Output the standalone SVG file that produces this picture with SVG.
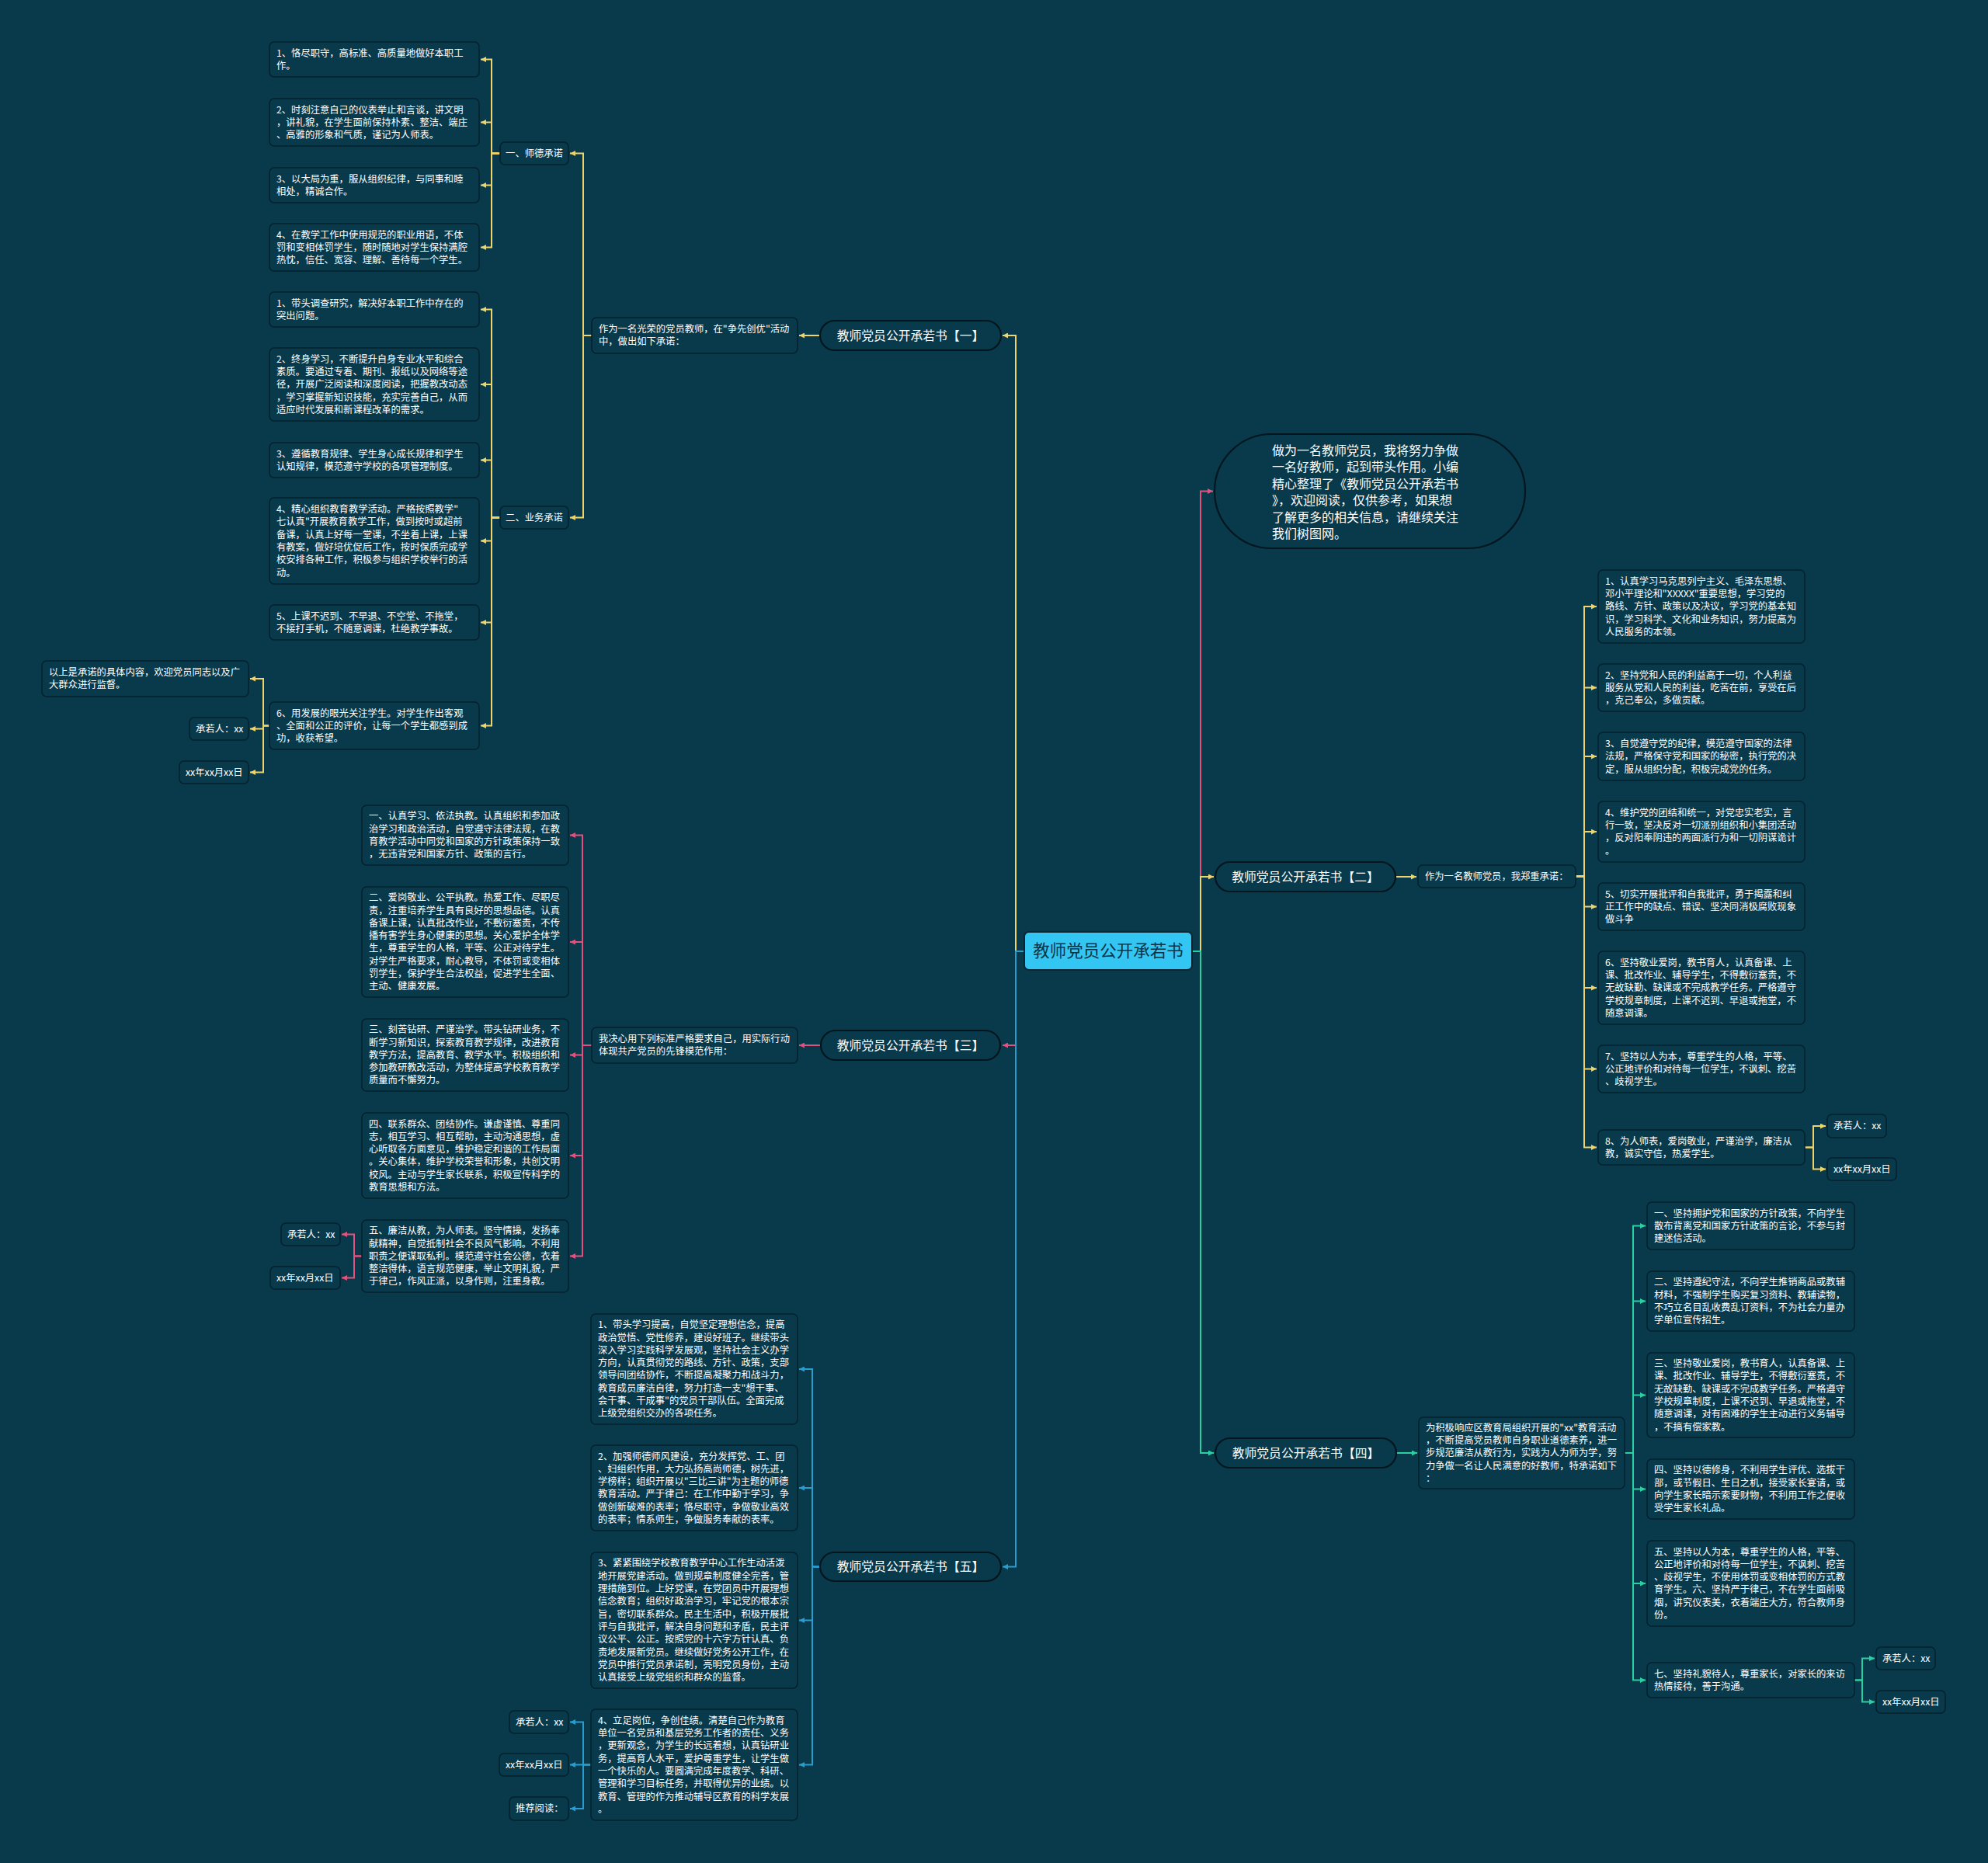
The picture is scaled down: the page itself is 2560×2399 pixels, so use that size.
<svg xmlns="http://www.w3.org/2000/svg" width="2560" height="2399" viewBox="0 0 2560 2399">
<style>
.bx{fill:#083a4c;stroke:#04202b;stroke-width:1.5}
.nd{fill:#083a4c;stroke:#03161d;stroke-width:2.2}
.lt{font-family:"Noto Sans CJK SC","Microsoft YaHei",sans-serif;font-size:12.3px;fill:#ffffff}
.nt{font-family:"Noto Sans CJK SC","Microsoft YaHei",sans-serif;font-size:15.8px;fill:#ffffff;text-anchor:middle}
.it{font-family:"Noto Sans CJK SC","Microsoft YaHei",sans-serif;font-size:16px;fill:#ffffff}
.ct{font-family:"Noto Sans CJK SC","Microsoft YaHei",sans-serif;font-size:21.5px;fill:#0b3446;text-anchor:middle}
.c{fill:none;stroke-width:2}
.y{stroke:#efd46c;marker-end:url(#mY)}
.p{stroke:#e2527e;marker-end:url(#mP)}
.b{stroke:#2a9ccd;marker-end:url(#mB)}
.g{stroke:#2bd0a2;marker-end:url(#mG)}
</style>
<defs>
<marker id="mY" viewBox="0 0 8 8" refX="8" refY="4" markerWidth="7" markerHeight="7" markerUnits="userSpaceOnUse" orient="auto"><path d="M0,0 L8,4 L0,8 z" fill="#efd46c"/></marker>
<marker id="mP" viewBox="0 0 8 8" refX="8" refY="4" markerWidth="7" markerHeight="7" markerUnits="userSpaceOnUse" orient="auto"><path d="M0,0 L8,4 L0,8 z" fill="#e2527e"/></marker>
<marker id="mB" viewBox="0 0 8 8" refX="8" refY="4" markerWidth="7" markerHeight="7" markerUnits="userSpaceOnUse" orient="auto"><path d="M0,0 L8,4 L0,8 z" fill="#2a9ccd"/></marker>
<marker id="mG" viewBox="0 0 8 8" refX="8" refY="4" markerWidth="7" markerHeight="7" markerUnits="userSpaceOnUse" orient="auto"><path d="M0,0 L8,4 L0,8 z" fill="#2bd0a2"/></marker>
</defs>
<rect x="0" y="0" width="2560" height="2399" fill="#083a4c"/>

<g id="connectors">
<!-- left: 一 (yellow) -->
<path class="c y" d="M1319,1225 H1308 V432 H1291"/>
<path class="c y" d="M1056,432 H1029"/>
<path class="c y" d="M762,432 H751 V197.5 H734"/>
<path class="c y" d="M762,432 H751 V666.5 H734"/>
<path class="c y" d="M644,197.5 H633 V76.5 H619"/>
<path class="c y" d="M644,197.5 H633 V157.5 H619"/>
<path class="c y" d="M644,197.5 H633 V238.5 H619"/>
<path class="c y" d="M644,197.5 H633 V318.5 H619"/>
<path class="c y" d="M644,666.5 H633 V398.5 H619"/>
<path class="c y" d="M644,666.5 H633 V495 H619"/>
<path class="c y" d="M644,666.5 H633 V592.5 H619"/>
<path class="c y" d="M644,666.5 H633 V696.5 H619"/>
<path class="c y" d="M644,666.5 H633 V801.5 H619"/>
<path class="c y" d="M644,666.5 H633 V934.5 H619"/>
<path class="c y" d="M349,934.5 H339 V874 H322"/>
<path class="c y" d="M349,934.5 H339 V938.5 H322"/>
<path class="c y" d="M349,934.5 H339 V994.5 H322"/>
<!-- left: 三 (pink) -->
<path class="c p" d="M1319,1225 H1308 V1346 H1291"/>
<path class="c p" d="M1057,1346 H1029"/>
<path class="c p" d="M762,1346 H750 V1075.5 H734"/>
<path class="c p" d="M762,1346 H750 V1213 H734"/>
<path class="c p" d="M762,1346 H750 V1358.5 H734"/>
<path class="c p" d="M762,1346 H750 V1488 H734"/>
<path class="c p" d="M762,1346 H750 V1617.5 H734"/>
<path class="c p" d="M466,1617.5 H456 V1589.5 H440"/>
<path class="c p" d="M466,1617.5 H456 V1645.5 H440"/>
<!-- left: 五 (blue) -->
<path class="c b" d="M1319,1225 H1308 V2017.5 H1291"/>
<path class="c b" d="M1056,2017.5 H1046 V1763 H1029"/>
<path class="c b" d="M1056,2017.5 H1046 V1916 H1029"/>
<path class="c b" d="M1056,2017.5 H1046 V2086.5 H1029"/>
<path class="c b" d="M1056,2017.5 H1046 V2272.5 H1029"/>
<path class="c b" d="M761,2272.5 H751 V2217.5 H734"/>
<path class="c b" d="M761,2272.5 H751 V2272.5 H734"/>
<path class="c b" d="M761,2272.5 H751 V2329 H734"/>
<!-- right: intro (pink) -->
<path class="c p" d="M1535,1225 H1546 V632.5 H1562"/>
<!-- right: 二 (yellow) -->
<path class="c y" d="M1535,1225 H1546 V1129 H1563"/>
<path class="c y" d="M1797,1129 H1824"/>
<path class="c y" d="M2029,1128.5 H2040 V781 H2056"/>
<path class="c y" d="M2029,1128.5 H2040 V885.5 H2056"/>
<path class="c y" d="M2029,1128.5 H2040 V974 H2056"/>
<path class="c y" d="M2029,1128.5 H2040 V1071 H2056"/>
<path class="c y" d="M2029,1128.5 H2040 V1167.5 H2056"/>
<path class="c y" d="M2029,1128.5 H2040 V1272 H2056"/>
<path class="c y" d="M2029,1128.5 H2040 V1376.5 H2056"/>
<path class="c y" d="M2029,1128.5 H2040 V1477.5 H2056"/>
<path class="c y" d="M2324,1477.5 H2335 V1450 H2351"/>
<path class="c y" d="M2324,1477.5 H2335 V1505.5 H2351"/>
<!-- right: 四 (green) -->
<path class="c g" d="M1535,1225 H1546 V1871 H1563"/>
<path class="c g" d="M1798,1871 H1825"/>
<path class="c g" d="M2092,1871 H2103 V1578.5 H2119"/>
<path class="c g" d="M2092,1871 H2103 V1675.5 H2119"/>
<path class="c g" d="M2092,1871 H2103 V1796.5 H2119"/>
<path class="c g" d="M2092,1871 H2103 V1917.5 H2119"/>
<path class="c g" d="M2092,1871 H2103 V2039 H2119"/>
<path class="c g" d="M2092,1871 H2103 V2163.5 H2119"/>
<path class="c g" d="M2388,2163.5 H2398 V2135.5 H2414"/>
<path class="c g" d="M2388,2163.5 H2398 V2191.5 H2414"/>
</g>

<!-- center -->
<g id="root">
<rect x="1319" y="1200" width="216" height="49" rx="6" fill="#33c6f3" stroke="#0b2532" stroke-width="2"/>
<text class="ct" x="1427" y="1232">教师党员公开承若书</text>
</g>

<!-- intro -->
<g id="intro">
<rect class="nd" x="1564" y="559" width="400" height="147" rx="73.5"/>
<text class="it" x="1638" y="585.6"><tspan x="1638">做为一名教师党员，我将努力争做</tspan><tspan x="1638" dy="21.5">一名好教师，起到带头作用。小编</tspan><tspan x="1638" dy="21.5">精心整理了《教师党员公开承若书</tspan><tspan x="1638" dy="21.5">》，欢迎阅读，仅供参考，如果想</tspan><tspan x="1638" dy="21.5">了解更多的相关信息，请继续关注</tspan><tspan x="1638" dy="21.5">我们树图网。</tspan></text>
</g>

<!-- branch nodes -->
<g id="b1"><rect class="nd" x="1056" y="413" width="233" height="38" rx="19"/><text class="nt" x="1172.5" y="437.6">教师党员公开承若书【一】</text></g>
<g id="b3"><rect class="nd" x="1057" y="1327" width="231" height="38" rx="19"/><text class="nt" x="1172.5" y="1351.6">教师党员公开承若书【三】</text></g>
<g id="b5"><rect class="nd" x="1056" y="1999" width="233" height="37" rx="18.5"/><text class="nt" x="1172.5" y="2023.1">教师党员公开承若书【五】</text></g>
<g id="b2"><rect class="nd" x="1565" y="1110" width="232" height="38" rx="19"/><text class="nt" x="1681" y="1134.6">教师党员公开承若书【二】</text></g>
<g id="b4"><rect class="nd" x="1565" y="1852" width="233" height="38" rx="19"/><text class="nt" x="1681.5" y="1876.6">教师党员公开承若书【四】</text></g>

<!-- section 一 -->
<g id="s1-intro"><rect class="bx" x="762" y="409" width="265" height="46" rx="6"/><text class="lt" x="771" y="428.15"><tspan x="771">作为一名光荣的党员教师，在"争先创优"活动</tspan><tspan x="771" dy="16.3">中，做出如下承诺：</tspan></text></g>
<g id="s1-a"><rect class="bx" x="644" y="183" width="88" height="29" rx="6"/><text class="lt" x="688" y="201.8" text-anchor="middle">一、师德承诺</text></g>
<g id="s1-b"><rect class="bx" x="644" y="652" width="88" height="29" rx="6"/><text class="lt" x="688" y="670.8" text-anchor="middle">二、业务承诺</text></g>
<g id="s1-a1"><rect class="bx" x="347" y="54" width="270" height="45" rx="6"/><text class="lt" x="356" y="72.65"><tspan x="356">1、恪尽职守，高标准、高质量地做好本职工</tspan><tspan x="356" dy="16.3">作。</tspan></text></g>
<g id="s1-a2"><rect class="bx" x="347" y="127" width="270" height="61" rx="6"/><text class="lt" x="356" y="145.5"><tspan x="356">2、时刻注意自己的仪表举止和言谈，讲文明</tspan><tspan x="356" dy="16.3">，讲礼貌，在学生面前保持朴素、整洁、端庄</tspan><tspan x="356" dy="16.3">、高雅的形象和气质，谨记为人师表。</tspan></text></g>
<g id="s1-a3"><rect class="bx" x="347" y="216" width="270" height="45" rx="6"/><text class="lt" x="356" y="234.65"><tspan x="356">3、以大局为重，服从组织纪律，与同事和睦</tspan><tspan x="356" dy="16.3">相处，精诚合作。</tspan></text></g>
<g id="s1-a4"><rect class="bx" x="347" y="288" width="270" height="61" rx="6"/><text class="lt" x="356" y="306.5"><tspan x="356">4、在教学工作中使用规范的职业用语，不体</tspan><tspan x="356" dy="16.3">罚和变相体罚学生，随时随地对学生保持满腔</tspan><tspan x="356" dy="16.3">热忱，信任、宽容、理解、善待每一个学生。</tspan></text></g>
<g id="s1-b1"><rect class="bx" x="347" y="376" width="270" height="45" rx="6"/><text class="lt" x="356" y="394.65"><tspan x="356">1、带头调查研究，解决好本职工作中存在的</tspan><tspan x="356" dy="16.3">突出问题。</tspan></text></g>
<g id="s1-b2"><rect class="bx" x="347" y="448" width="270" height="94" rx="6"/><text class="lt" x="356" y="466.7"><tspan x="356">2、终身学习，不断提升自身专业水平和综合</tspan><tspan x="356" dy="16.3">素质。要通过专着、期刊、报纸以及网络等途</tspan><tspan x="356" dy="16.3">径，开展广泛阅读和深度阅读，把握教改动态</tspan><tspan x="356" dy="16.3">，学习掌握新知识技能，充实完善自己，从而</tspan><tspan x="356" dy="16.3">适应时代发展和新课程改革的需求。</tspan></text></g>
<g id="s1-b3"><rect class="bx" x="347" y="570" width="270" height="45" rx="6"/><text class="lt" x="356" y="588.65"><tspan x="356">3、遵循教育规律、学生身心成长规律和学生</tspan><tspan x="356" dy="16.3">认知规律，模范遵守学校的各项管理制度。</tspan></text></g>
<g id="s1-b4"><rect class="bx" x="347" y="641" width="270" height="111" rx="6"/><text class="lt" x="356" y="660.05"><tspan x="356">4、精心组织教育教学活动。严格按照教学"</tspan><tspan x="356" dy="16.3">七认真"开展教育教学工作，做到按时或超前</tspan><tspan x="356" dy="16.3">备课，认真上好每一堂课，不坐着上课，上课</tspan><tspan x="356" dy="16.3">有教案，做好培优促后工作，按时保质完成学</tspan><tspan x="356" dy="16.3">校安排各种工作，积极参与组织学校举行的活</tspan><tspan x="356" dy="16.3">动。</tspan></text></g>
<g id="s1-b5"><rect class="bx" x="347" y="779" width="270" height="45" rx="6"/><text class="lt" x="356" y="797.65"><tspan x="356">5、上课不迟到、不早退、不空堂、不拖堂，</tspan><tspan x="356" dy="16.3">不接打手机，不随意调课，杜绝教学事故。</tspan></text></g>
<g id="s1-b6"><rect class="bx" x="347" y="904" width="270" height="61" rx="6"/><text class="lt" x="356" y="922.5"><tspan x="356">6、用发展的眼光关注学生。对学生作出客观</tspan><tspan x="356" dy="16.3">、全面和公正的评价，让每一个学生都感到成</tspan><tspan x="356" dy="16.3">功，收获希望。</tspan></text></g>
<g id="s1-b6a"><rect class="bx" x="54" y="851" width="266" height="46" rx="6"/><text class="lt" x="63" y="870.15"><tspan x="63">以上是承诺的具体内容，欢迎党员同志以及广</tspan><tspan x="63" dy="16.3">大群众进行监督。</tspan></text></g>
<g id="s1-b6b"><rect class="bx" x="244" y="924" width="76" height="29" rx="6"/><text class="lt" x="252" y="942.8">承若人：xx</text></g>
<g id="s1-b6c"><rect class="bx" x="231" y="980" width="89" height="29" rx="6"/><text class="lt" x="239" y="998.8">xx年xx月xx日</text></g>

<!-- section 三 -->
<g id="s3-intro"><rect class="bx" x="762" y="1323" width="265" height="46" rx="6"/><text class="lt" x="771" y="1342.15"><tspan x="771">我决心用下列标准严格要求自己，用实际行动</tspan><tspan x="771" dy="16.3">体现共产党员的先锋模范作用：</tspan></text></g>
<g id="s3-1"><rect class="bx" x="466" y="1037" width="266" height="77" rx="6"/><text class="lt" x="475" y="1055.35"><tspan x="475">一、认真学习、依法执教。认真组织和参加政</tspan><tspan x="475" dy="16.3">治学习和政治活动，自觉遵守法律法规，在教</tspan><tspan x="475" dy="16.3">育教学活动中同党和国家的方针政策保持一致</tspan><tspan x="475" dy="16.3">，无违背党和国家方针、政策的言行。</tspan></text></g>
<g id="s3-2"><rect class="bx" x="466" y="1142" width="266" height="142" rx="6"/><text class="lt" x="475" y="1160.25"><tspan x="475">二、爱岗敬业、公平执教。热爱工作、尽职尽</tspan><tspan x="475" dy="16.3">责，注重培养学生具有良好的思想品德。认真</tspan><tspan x="475" dy="16.3">备课上课，认真批改作业，不敷衍塞责，不传</tspan><tspan x="475" dy="16.3">播有害学生身心健康的思想。关心爱护全体学</tspan><tspan x="475" dy="16.3">生，尊重学生的人格，平等、公正对待学生。</tspan><tspan x="475" dy="16.3">对学生严格要求，耐心教导，不体罚或变相体</tspan><tspan x="475" dy="16.3">罚学生，保护学生合法权益，促进学生全面、</tspan><tspan x="475" dy="16.3">主动、健康发展。</tspan></text></g>
<g id="s3-3"><rect class="bx" x="466" y="1312" width="266" height="93" rx="6"/><text class="lt" x="475" y="1330.2"><tspan x="475">三、刻苦钻研、严谨治学。带头钻研业务，不</tspan><tspan x="475" dy="16.3">断学习新知识，探索教育教学规律，改进教育</tspan><tspan x="475" dy="16.3">教学方法，提高教育、教学水平。积极组织和</tspan><tspan x="475" dy="16.3">参加教研教改活动，为整体提高学校教育教学</tspan><tspan x="475" dy="16.3">质量而不懈努力。</tspan></text></g>
<g id="s3-4"><rect class="bx" x="466" y="1433" width="266" height="110" rx="6"/><text class="lt" x="475" y="1451.55"><tspan x="475">四、联系群众、团结协作。谦虚谨慎、尊重同</tspan><tspan x="475" dy="16.3">志，相互学习、相互帮助，主动沟通思想，虚</tspan><tspan x="475" dy="16.3">心听取各方面意见，维护稳定和谐的工作局面</tspan><tspan x="475" dy="16.3">。关心集体，维护学校荣誉和形象，共创文明</tspan><tspan x="475" dy="16.3">校风。主动与学生家长联系，积极宣传科学的</tspan><tspan x="475" dy="16.3">教育思想和方法。</tspan></text></g>
<g id="s3-5"><rect class="bx" x="466" y="1571" width="266" height="93" rx="6"/><text class="lt" x="475" y="1589.2"><tspan x="475">五、廉洁从教，为人师表。坚守情操，发扬奉</tspan><tspan x="475" dy="16.3">献精神，自觉抵制社会不良风气影响。不利用</tspan><tspan x="475" dy="16.3">职责之便谋取私利。模范遵守社会公德，衣着</tspan><tspan x="475" dy="16.3">整洁得体，语言规范健康，举止文明礼貌，严</tspan><tspan x="475" dy="16.3">于律己，作风正派，以身作则，注重身教。</tspan></text></g>
<g id="s3-5a"><rect class="bx" x="362" y="1575" width="76" height="29" rx="6"/><text class="lt" x="370" y="1593.8">承若人：xx</text></g>
<g id="s3-5b"><rect class="bx" x="348" y="1631" width="90" height="29" rx="6"/><text class="lt" x="356" y="1649.8">xx年xx月xx日</text></g>

<!-- section 五 -->
<g id="s5-1"><rect class="bx" x="761" y="1692" width="266" height="142" rx="6"/><text class="lt" x="770" y="1710.25"><tspan x="770">1、带头学习提高，自觉坚定理想信念，提高</tspan><tspan x="770" dy="16.3">政治觉悟、党性修养，建设好班子。继续带头</tspan><tspan x="770" dy="16.3">深入学习实践科学发展观，坚持社会主义办学</tspan><tspan x="770" dy="16.3">方向，认真贯彻党的路线、方针、政策，支部</tspan><tspan x="770" dy="16.3">领导间团结协作，不断提高凝聚力和战斗力，</tspan><tspan x="770" dy="16.3">教育成员廉洁自律，努力打造一支"想干事、</tspan><tspan x="770" dy="16.3">会干事、干成事"的党员干部队伍。全面完成</tspan><tspan x="770" dy="16.3">上级党组织交办的各项任务。</tspan></text></g>
<g id="s5-2"><rect class="bx" x="761" y="1861" width="266" height="110" rx="6"/><text class="lt" x="770" y="1879.55"><tspan x="770">2、加强师德师风建设，充分发挥党、工、团</tspan><tspan x="770" dy="16.3">、妇组织作用，大力弘扬高尚师德，树先进，</tspan><tspan x="770" dy="16.3">学榜样；组织开展以"三比三讲"为主题的师德</tspan><tspan x="770" dy="16.3">教育活动。严于律己：在工作中勤于学习，争</tspan><tspan x="770" dy="16.3">做创新破难的表率；恪尽职守，争做敬业高效</tspan><tspan x="770" dy="16.3">的表率；情系师生，争做服务奉献的表率。</tspan></text></g>
<g id="s5-3"><rect class="bx" x="761" y="1999" width="266" height="175" rx="6"/><text class="lt" x="770" y="2017.45"><tspan x="770">3、紧紧围绕学校教育教学中心工作生动活泼</tspan><tspan x="770" dy="16.3">地开展党建活动。做到规章制度健全完善，管</tspan><tspan x="770" dy="16.3">理措施到位。上好党课，在党团员中开展理想</tspan><tspan x="770" dy="16.3">信念教育；组织好政治学习，牢记党的根本宗</tspan><tspan x="770" dy="16.3">旨，密切联系群众。民主生活中，积极开展批</tspan><tspan x="770" dy="16.3">评与自我批评，解决自身问题和矛盾，民主评</tspan><tspan x="770" dy="16.3">议公平、公正。按照党的十六字方针认真、负</tspan><tspan x="770" dy="16.3">责地发展新党员。继续做好党务公开工作，在</tspan><tspan x="770" dy="16.3">党员中推行党员承诺制，亮明党员身份，主动</tspan><tspan x="770" dy="16.3">认真接受上级党组织和群众的监督。</tspan></text></g>
<g id="s5-4"><rect class="bx" x="761" y="2201" width="266" height="143" rx="6"/><text class="lt" x="770" y="2219.75"><tspan x="770">4、立足岗位，争创佳绩。清楚自己作为教育</tspan><tspan x="770" dy="16.3">单位一名党员和基层党务工作者的责任、义务</tspan><tspan x="770" dy="16.3">，更新观念，为学生的长远着想，认真钻研业</tspan><tspan x="770" dy="16.3">务，提高育人水平，爱护尊重学生，让学生做</tspan><tspan x="770" dy="16.3">一个快乐的人。要圆满完成年度教学、科研、</tspan><tspan x="770" dy="16.3">管理和学习目标任务，并取得优异的业绩。以</tspan><tspan x="770" dy="16.3">教育、管理的作为推动辅导区教育的科学发展</tspan><tspan x="770" dy="16.3">。</tspan></text></g>
<g id="s5-4a"><rect class="bx" x="656" y="2203" width="76" height="29" rx="6"/><text class="lt" x="664" y="2221.8">承若人：xx</text></g>
<g id="s5-4b"><rect class="bx" x="643" y="2258" width="89" height="29" rx="6"/><text class="lt" x="651" y="2276.8">xx年xx月xx日</text></g>
<g id="s5-4c"><rect class="bx" x="656" y="2314" width="76" height="30" rx="6"/><text class="lt" x="664" y="2333.3">推荐阅读：</text></g>

<!-- section 二 -->
<g id="s2-intro"><rect class="bx" x="1826" y="1114" width="203" height="29" rx="6"/><text class="lt" x="1835" y="1132.8">作为一名教师党员，我郑重承诺：</text></g>
<g id="s2-1"><rect class="bx" x="2058" y="734" width="266" height="94" rx="6"/><text class="lt" x="2067" y="752.7"><tspan x="2067">1、认真学习马克思列宁主义、毛泽东思想、</tspan><tspan x="2067" dy="16.3">邓小平理论和"XXXXX"重要思想，学习党的</tspan><tspan x="2067" dy="16.3">路线、方针、政策以及决议，学习党的基本知</tspan><tspan x="2067" dy="16.3">识，学习科学、文化和业务知识，努力提高为</tspan><tspan x="2067" dy="16.3">人民服务的本领。</tspan></text></g>
<g id="s2-2"><rect class="bx" x="2058" y="855" width="266" height="61" rx="6"/><text class="lt" x="2067" y="873.5"><tspan x="2067">2、坚持党和人民的利益高于一切，个人利益</tspan><tspan x="2067" dy="16.3">服务从党和人民的利益，吃苦在前，享受在后</tspan><tspan x="2067" dy="16.3">，克己奉公，多做贡献。</tspan></text></g>
<g id="s2-3"><rect class="bx" x="2058" y="943" width="266" height="62" rx="6"/><text class="lt" x="2067" y="962"><tspan x="2067">3、自觉遵守党的纪律，模范遵守国家的法律</tspan><tspan x="2067" dy="16.3">法规，严格保守党和国家的秘密，执行党的决</tspan><tspan x="2067" dy="16.3">定，服从组织分配，积极完成党的任务。</tspan></text></g>
<g id="s2-4"><rect class="bx" x="2058" y="1032" width="266" height="78" rx="6"/><text class="lt" x="2067" y="1050.85"><tspan x="2067">4、维护党的团结和统一，对党忠实老实，言</tspan><tspan x="2067" dy="16.3">行一致，坚决反对一切派别组织和小集团活动</tspan><tspan x="2067" dy="16.3">，反对阳奉阴违的两面派行为和一切阴谋诡计</tspan><tspan x="2067" dy="16.3">。</tspan></text></g>
<g id="s2-5"><rect class="bx" x="2058" y="1137" width="266" height="61" rx="6"/><text class="lt" x="2067" y="1155.5"><tspan x="2067">5、切实开展批评和自我批评，勇于揭露和纠</tspan><tspan x="2067" dy="16.3">正工作中的缺点、错误、坚决同消极腐败现象</tspan><tspan x="2067" dy="16.3">做斗争</tspan></text></g>
<g id="s2-6"><rect class="bx" x="2058" y="1225" width="266" height="94" rx="6"/><text class="lt" x="2067" y="1243.7"><tspan x="2067">6、坚持敬业爱岗，教书育人，认真备课、上</tspan><tspan x="2067" dy="16.3">课、批改作业、辅导学生，不得敷衍塞责，不</tspan><tspan x="2067" dy="16.3">无故缺勤、缺课或不完成教学任务。严格遵守</tspan><tspan x="2067" dy="16.3">学校规章制度，上课不迟到、早退或拖堂，不</tspan><tspan x="2067" dy="16.3">随意调课。</tspan></text></g>
<g id="s2-7"><rect class="bx" x="2058" y="1346" width="266" height="61" rx="6"/><text class="lt" x="2067" y="1364.5"><tspan x="2067">7、坚持以人为本，尊重学生的人格，平等、</tspan><tspan x="2067" dy="16.3">公正地评价和对待每一位学生，不讽刺、挖苦</tspan><tspan x="2067" dy="16.3">、歧视学生。</tspan></text></g>
<g id="s2-8"><rect class="bx" x="2058" y="1455" width="266" height="45" rx="6"/><text class="lt" x="2067" y="1473.65"><tspan x="2067">8、为人师表，爱岗敬业，严谨治学，廉洁从</tspan><tspan x="2067" dy="16.3">教，诚实守信，热爱学生。</tspan></text></g>
<g id="s2-8a"><rect class="bx" x="2353" y="1435" width="76" height="30" rx="6"/><text class="lt" x="2361" y="1454.3">承若人：xx</text></g>
<g id="s2-8b"><rect class="bx" x="2353" y="1491" width="89" height="29" rx="6"/><text class="lt" x="2361" y="1509.8">xx年xx月xx日</text></g>

<!-- section 四 -->
<g id="s4-intro"><rect class="bx" x="1827" y="1825" width="265" height="92" rx="6"/><text class="lt" x="1836" y="1842.7"><tspan x="1836">为积极响应区教育局组织开展的"xx"教育活动</tspan><tspan x="1836" dy="16.3">，不断提高党员教师自身职业道德素养，进一</tspan><tspan x="1836" dy="16.3">步规范廉洁从教行为，实践为人为师为学，努</tspan><tspan x="1836" dy="16.3">力争做一名让人民满意的好教师，特承诺如下</tspan><tspan x="1836" dy="16.3">：</tspan></text></g>
<g id="s4-1"><rect class="bx" x="2121" y="1548" width="267" height="61" rx="6"/><text class="lt" x="2130" y="1566.5"><tspan x="2130">一、坚持拥护党和国家的方针政策，不向学生</tspan><tspan x="2130" dy="16.3">散布背离党和国家方针政策的言论，不参与封</tspan><tspan x="2130" dy="16.3">建迷信活动。</tspan></text></g>
<g id="s4-2"><rect class="bx" x="2121" y="1637" width="267" height="77" rx="6"/><text class="lt" x="2130" y="1655.35"><tspan x="2130">二、坚持遵纪守法，不向学生推销商品或教辅</tspan><tspan x="2130" dy="16.3">材料，不强制学生购买复习资料、教辅读物，</tspan><tspan x="2130" dy="16.3">不巧立名目乱收费乱订资料，不为社会力量办</tspan><tspan x="2130" dy="16.3">学单位宣传招生。</tspan></text></g>
<g id="s4-3"><rect class="bx" x="2121" y="1742" width="267" height="109" rx="6"/><text class="lt" x="2130" y="1760.05"><tspan x="2130">三、坚持敬业爱岗，教书育人，认真备课、上</tspan><tspan x="2130" dy="16.3">课、批改作业、辅导学生，不得敷衍塞责，不</tspan><tspan x="2130" dy="16.3">无故缺勤、缺课或不完成教学任务。严格遵守</tspan><tspan x="2130" dy="16.3">学校规章制度，上课不迟到、早退或拖堂，不</tspan><tspan x="2130" dy="16.3">随意调课，对有困难的学生主动进行义务辅导</tspan><tspan x="2130" dy="16.3">，不搞有偿家教。</tspan></text></g>
<g id="s4-4"><rect class="bx" x="2121" y="1879" width="267" height="77" rx="6"/><text class="lt" x="2130" y="1897.35"><tspan x="2130">四、坚持以德修身，不利用学生评优、选拔干</tspan><tspan x="2130" dy="16.3">部，或节假日、生日之机，接受家长宴请，或</tspan><tspan x="2130" dy="16.3">向学生家长暗示索要财物，不利用工作之便收</tspan><tspan x="2130" dy="16.3">受学生家长礼品。</tspan></text></g>
<g id="s4-5"><rect class="bx" x="2121" y="1984" width="267" height="110" rx="6"/><text class="lt" x="2130" y="2002.55"><tspan x="2130">五、坚持以人为本，尊重学生的人格，平等、</tspan><tspan x="2130" dy="16.3">公正地评价和对待每一位学生，不讽刺、挖苦</tspan><tspan x="2130" dy="16.3">、歧视学生，不使用体罚或变相体罚的方式教</tspan><tspan x="2130" dy="16.3">育学生。六、坚持严于律己，不在学生面前吸</tspan><tspan x="2130" dy="16.3">烟，讲究仪表美，衣着端庄大方，符合教师身</tspan><tspan x="2130" dy="16.3">份。</tspan></text></g>
<g id="s4-7"><rect class="bx" x="2121" y="2141" width="267" height="45" rx="6"/><text class="lt" x="2130" y="2159.65"><tspan x="2130">七、坚持礼貌待人，尊重家长，对家长的来访</tspan><tspan x="2130" dy="16.3">热情接待，善于沟通。</tspan></text></g>
<g id="s4-7a"><rect class="bx" x="2416" y="2121" width="76" height="29" rx="6"/><text class="lt" x="2424" y="2139.8">承若人：xx</text></g>
<g id="s4-7b"><rect class="bx" x="2416" y="2177" width="89" height="29" rx="6"/><text class="lt" x="2424" y="2195.8">xx年xx月xx日</text></g>
</svg>
